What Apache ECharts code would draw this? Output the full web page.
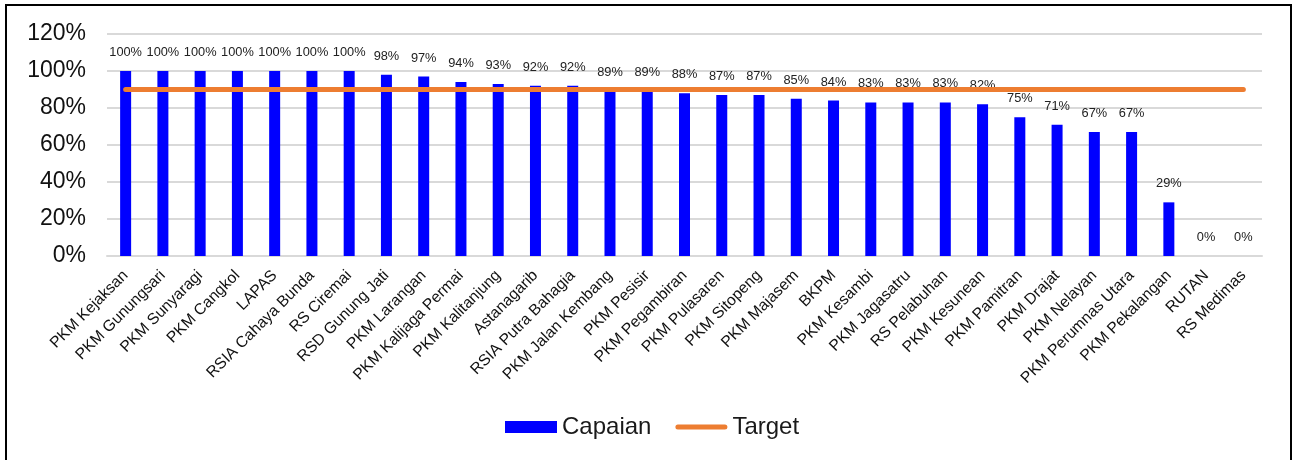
<!DOCTYPE html>
<html>
<head>
<meta charset="utf-8">
<script src="https://cdn.jsdelivr.net/npm/echarts@6/dist/echarts.min.js"></script>
<style>
html,body{margin:0;padding:0;background:#fff;}
#c{width:1298px;height:460px;}
</style>
</head>
<body>
<div id="c"></div>
<script>
const categories = ["PKM Kejaksan","PKM Gunungsari","PKM Sunyaragi","PKM Cangkol","LAPAS","RSIA Cahaya Bunda","RS Ciremai","RSD Gunung Jati","PKM Larangan","PKM Kalijaga Permai","PKM Kalitanjung","Astanagarib","RSIA Putra Bahagia","PKM Jalan Kembang","PKM Pesisir","PKM Pegambiran","PKM Pulasaren","PKM Sitopeng","PKM Majasem","BKPM","PKM Kesambi","PKM Jagasatru","RS Pelabuhan","PKM Kesunean","PKM Pamitran","PKM Drajat","PKM Nelayan","PKM Perumnas Utara","PKM Pekalangan","RUTAN","RS Medimas"];
const capaian = [100,100,100,100,100,100,100,98,97,94,93,92,92,89,89,88,87,87,85,84,83,83,83,82,75,71,67,67,29,0,0];
const target = [90,90,90,90,90,90,90,90,90,90,90,90,90,90,90,90,90,90,90,90,90,90,90,90,90,90,90,90,90,90,90];
const yTicks = [0,20,40,60,80,100,120];

const chart = echarts.init(document.getElementById('c'), null, {renderer:'canvas'});
const FONT = 'Liberation Sans, Arial, sans-serif';
const lineIcon = 'path://M0,0L0.01,0Z M0,12L0.01,12Z M2.5,3.5L49.5,3.5A2.5,2.5,0,0,1,49.5,8.5L2.5,8.5A2.5,2.5,0,0,1,2.5,3.5Z M52,0L52,0.01Z';
chart.setOption({
  animation: false,
  textStyle: {fontFamily: FONT},
  graphic: [{
    type: 'rect', silent: true, z: 100,
    shape: {x: 6, y: 5, width: 1285, height: 480},
    style: {fill: 'none', stroke: '#000', lineWidth: 2}
  }],
  grid: {left: 107, right: 36, top: 34, bottom: 204, containLabel: false},
  legend: {
    bottom: 16, left: 500,
    itemWidth: 52, itemHeight: 12, itemGap: 24,
    textStyle: {fontSize: 24, color: '#1a1a1a', fontFamily: FONT},
    data: [
      {name: 'Capaian', icon: 'rect'},
      {name: 'Target', icon: lineIcon, itemStyle: {color: '#ED7D31'}}
    ]
  },
  xAxis: {
    type: 'category',
    data: categories,
    boundaryGap: true,
    axisLine: {show: true, lineStyle: {color: '#d9d9d9', width: 2}},
    axisTick: {show: false},
    axisLabel: {interval: 0, rotate: 45, fontSize: 15.7, color: '#111', margin: 17, fontFamily: FONT}
  },
  yAxis: {
    type: 'value',
    min: 0, max: 120, interval: 20,
    axisLine: {show: false},
    axisTick: {show: false},
    splitLine: {lineStyle: {color: '#d9d9d9', width: 2}},
    axisLabel: {formatter: function(v){ return yTicks.indexOf(v) >= 0 ? v + '%' : ''; }, fontSize: 23, color: '#111', margin: 21, fontFamily: FONT}
  },
  series: [
    {
      name: 'Capaian', type: 'bar', data: capaian, barWidth: 11,
      itemStyle: {color: '#0000FF'},
      label: {show: true, position: 'top', distance: 12, formatter: '{c}%', fontSize: 12.8, color: '#222', fontFamily: FONT}
    },
    {
      name: 'Target', type: 'line', data: target, symbol: 'none',
      lineStyle: {color: '#ED7D31', width: 5, cap: 'round'},
      itemStyle: {color: '#ED7D31'},
      z: 3
    }
  ]
});
</script>
</body>
</html>
